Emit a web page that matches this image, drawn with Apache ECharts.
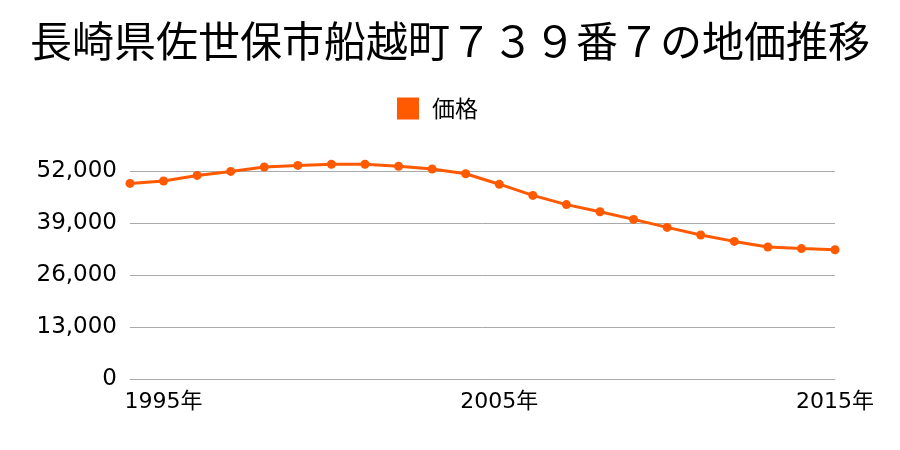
<!DOCTYPE html>
<html><head><meta charset="utf-8">
<script src="https://cdn.jsdelivr.net/npm/echarts@6/dist/echarts.min.js"></script>
<style>html,body{margin:0;padding:0;background:#fff}#c{width:900px;height:450px}</style>
</head><body><div id="c"></div>
<script>
var years = ['1994','1995','1996','1997','1998','1999','2000','2001','2002','2003','2004','2005','2006','2007','2008','2009','2010','2011','2012','2013','2014','2015'];
var prices = [48900,49500,50900,51900,53000,53400,53700,53700,53200,52500,51300,48700,45900,43600,41800,39900,37900,36000,34400,33000,32600,32300];
var shownYears = ['1995','2005','2015'];
var yTicks = [0,13000,26000,39000,52000];

var FONT = '"Noto Sans CJK JP", "Noto Sans", sans-serif';
var NUMFONT = '"DejaVu Sans", "Noto Sans CJK JP", sans-serif';
var chart = echarts.init(document.getElementById('c'), null, {renderer:'canvas'});
chart.setOption({
  animation:false,
  title:{text:'長崎県佐世保市船越町７３９番７の地価推移', left:'center', top:15,
    textStyle:{fontFamily:FONT, fontSize:42, fontWeight:'normal', color:'#000'}},
  legend:{data:['価格'], top:97, left:397, padding:0, itemWidth:22, itemHeight:22, icon:'rect', itemGap:10,
    textStyle:{fontFamily:FONT, fontSize:23, color:'#000', padding:[0,0,0,8]}},
  grid:{left:130, right:65, top:171, bottom:71},
  xAxis:{type:'category', data:years, boundaryGap:false,
    axisLine:{show:true, lineStyle:{color:'#aaa', width:1}},
    axisTick:{show:false},
    axisLabel:{interval:function(i,v){return shownYears.indexOf(v)>=0;}, formatter:function(v){return v+'年';},
      fontFamily:NUMFONT, fontSize:22, color:'#000', margin:12}},
  yAxis:{type:'value', min:yTicks[0], max:yTicks[yTicks.length-1], interval:yTicks[1]-yTicks[0],
    axisLine:{show:false}, axisTick:{show:false},
    splitLine:{lineStyle:{color:'#aaa', width:1}},
    axisLabel:{fontFamily:NUMFONT, fontSize:23, color:'#000', margin:13, padding:[4,0,0,0],
      formatter:function(v){return v.toLocaleString('en-US');}}},
  series:[{name:'価格', type:'line', data:prices, clip:false, symbol:'circle', symbolSize:9,
    itemStyle:{color:'#ff5a00'}, lineStyle:{color:'#ff5a00', width:3}}]
});
</script></body></html>
